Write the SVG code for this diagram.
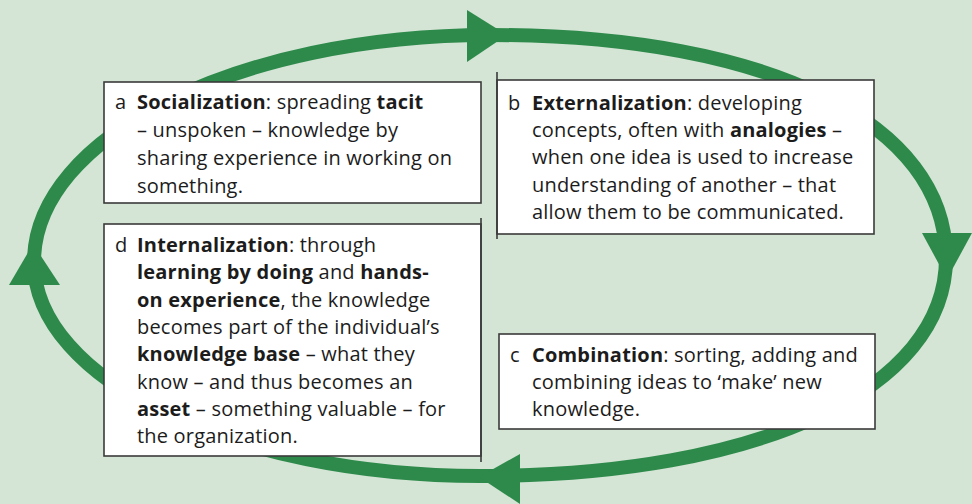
<svg xmlns="http://www.w3.org/2000/svg" width="972" height="504" viewBox="0 0 972 504">
<style>
.bg{fill:#d4e5d5}
.ring{fill:none;stroke:#2e8a4b;stroke-width:14}
.head{fill:#2e8a4b}
.box{fill:#ffffff;stroke:#3a3a3a;stroke-width:1.6}
.edge{stroke:#3a3a3a;stroke-width:1.6}
text{font-family:"Open Sans","Noto Sans","Liberation Sans",sans-serif;font-size:20px;letter-spacing:0.2px;fill:#1c1c1c}
.b{font-weight:700}
</style>
<rect class="bg" x="0" y="0" width="972" height="504"/>
<g id="connectors">
  <path class="ring" d="M34,262 C34,137 238,35 490,35 C773,35 946,125 946,258 C946,389 760,476 480,476 C234,476 34,380 34,262 Z"/>
  <polygon class="head" points="467,10 507,35 467,62"/>
  <polygon class="head" points="922,233 972,233 947,279"/>
  <polygon class="head" points="520,454 520,504 479,477"/>
  <polygon class="head" points="9,285 60,285 33,244"/>
</g>
<g id="node-a">
  <rect class="box" x="104" y="82" width="377" height="121"/>
  <text x="115" y="109">a</text>
  <text x="137" y="109"><tspan class="b">Socialization</tspan>: spreading <tspan class="b">tacit</tspan></text>
  <text x="137" y="137">– unspoken – knowledge by</text>
  <text x="137" y="165">sharing experience in working on</text>
  <text x="137" y="193">something.</text>
</g>
<g id="node-b">
  <rect class="box" x="497" y="80" width="377" height="154"/>
  <line class="edge" x1="497" y1="72" x2="497" y2="239"/>
  <text x="508" y="110">b</text>
  <text x="532" y="110"><tspan class="b">Externalization</tspan>: developing</text>
  <text x="532" y="137">concepts, often with <tspan class="b">analogies</tspan> –</text>
  <text x="532" y="164">when one idea is used to increase</text>
  <text x="532" y="192">understanding of another – that</text>
  <text x="532" y="219">allow them to be communicated.</text>
</g>
<g id="node-c">
  <rect class="box" x="499" y="334" width="376" height="95"/>
  <text x="510" y="362">c</text>
  <text x="532" y="362"><tspan class="b">Combination</tspan>: sorting, adding and</text>
  <text x="532" y="389">combining ideas to ‘make’ new</text>
  <text x="532" y="416">knowledge.</text>
</g>
<g id="node-d">
  <rect class="box" x="104" y="224" width="377" height="232"/>
  <line class="edge" x1="481" y1="218" x2="481" y2="462"/>
  <text x="115" y="252">d</text>
  <text x="137" y="252"><tspan class="b">Internalization</tspan>: through</text>
  <text x="137" y="279"><tspan class="b">learning by doing</tspan> and <tspan class="b">hands-</tspan></text>
  <text x="137" y="307"><tspan class="b">on experience</tspan>, the knowledge</text>
  <text x="137" y="334">becomes part of the individual’s</text>
  <text x="137" y="361"><tspan class="b">knowledge base</tspan> – what they</text>
  <text x="137" y="389">know – and thus becomes an</text>
  <text x="137" y="416"><tspan class="b">asset</tspan> – something valuable – for</text>
  <text x="137" y="443">the organization.</text>
</g>
</svg>
